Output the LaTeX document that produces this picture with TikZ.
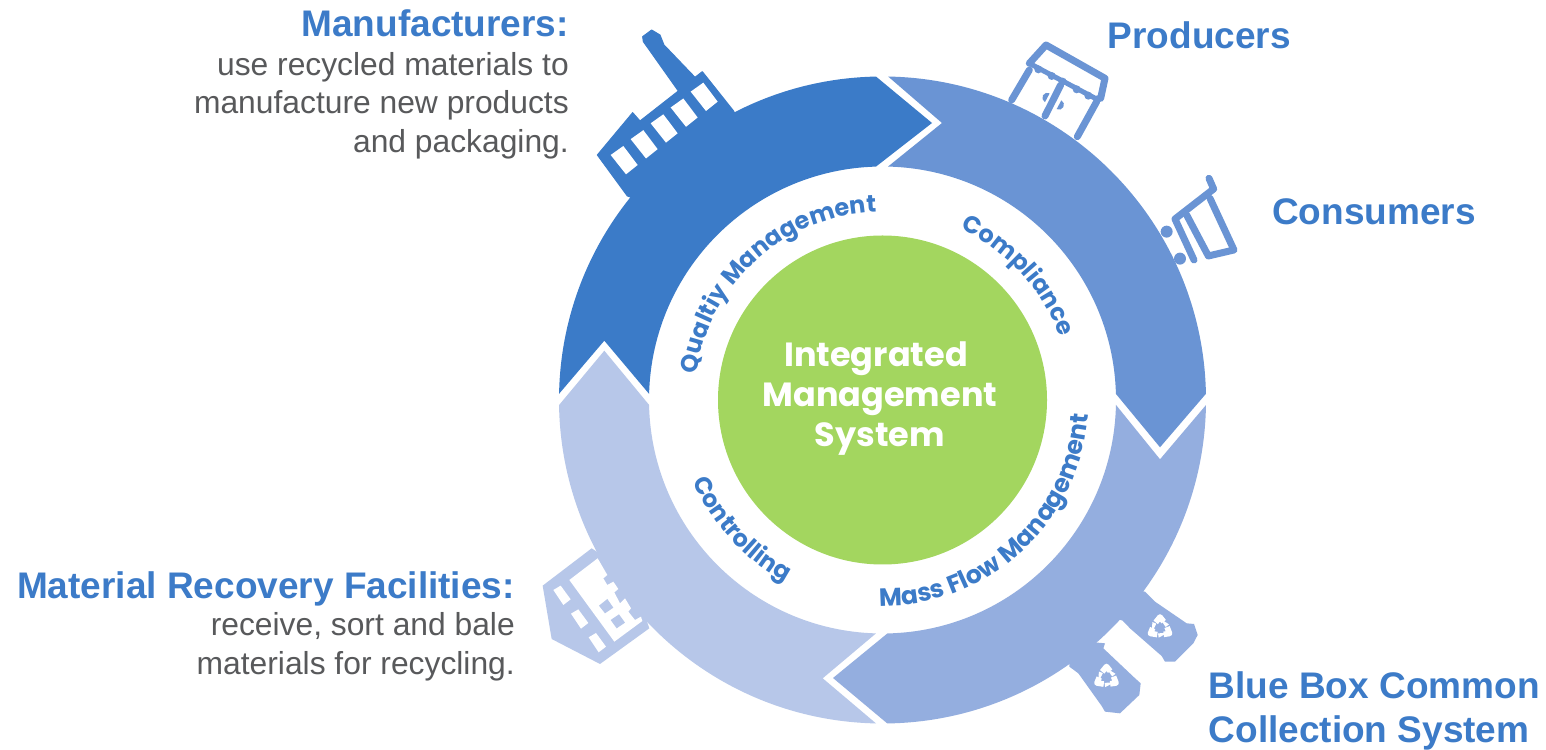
\documentclass[tikz,border=0pt]{standalone}
\usepackage{fontspec}
\setmainfont{Liberation Sans}
\newfontfamily\popbold{Poppins}[BoldFont={Poppins Bold}]
\usetikzlibrary{decorations.text}
\definecolor{segA}{HTML}{3B7BC8}
\definecolor{segB}{HTML}{6A94D4}
\definecolor{segC}{HTML}{94AEDF}
\definecolor{segD}{HTML}{B7C7E9}
\definecolor{hub}{HTML}{A3D65F}
\definecolor{headblue}{HTML}{3C7BC8}
\definecolor{bodygrey}{HTML}{58595B}
\tikzset{
  headtxt/.style={font=\fontsize{37}{37}\selectfont\bfseries,text=headblue,inner sep=0pt},
  bodytxt/.style={font=\fontsize{31.8}{31.8}\selectfont,text=bodygrey,inner sep=0pt},
  hubtxt/.style={font=\fontsize{33.5}{33.5}\popbold\bfseries,text=white,inner sep=0pt,anchor=base},
  iconline/.style={draw=segB,line width=7pt,line join=round,line cap=round,fill=none},
  arctext/.style={decorate,decoration={text along path,text align=center,text={#1}}}
}
\newcommand{\arcfont}{\fontsize{24}{24}\popbold\bfseries\color{headblue}}
\newcommand{\arcfontb}{\fontsize{25}{25}\popbold\bfseries\color{headblue}}
\newcommand{\recsym}[2]{%
  \begin{scope}[shift={(#1,#2)},x=.3333pt,y=.3333pt]
    \foreach \a in {90,210,330}{
      \begin{scope}[rotate=\a]
        \draw[white,line width=5.6pt,line join=round] (17,13) -- (33,0) -- (19,-11);
        \fill[white] (28,0) -- (11,-27) -- (3,-17) -- cycle;
      \end{scope}
    }
  \end{scope}}
\begin{document}
\begin{tikzpicture}[x=1pt,y=1pt]
\path[use as bounding box,fill=white] (0,0) rectangle (1546,749);
% ring
\begin{scope}[shift={(882.5,349)}]
  \fill[segB] (89:323.5) arc[start angle=89,end angle=1.1,radius=323.5] -- (277.5,-47.3) -- (1.5:233.5) arc[start angle=1.5,end angle=88.65,radius=233.5] -- (59.5,277) -- cycle;
  \fill[segC] (-.9:323.5) arc[start angle=-.9,end angle=-89.15,radius=323.5] -- (-49.5,-278) -- (-88.8:233.5) arc[start angle=-88.8,end angle=-1.2,radius=233.5] -- (277.5,-59.3) -- cycle;
  \fill[segD] (268.85:323.5) arc[start angle=268.85,end angle=180.9,radius=323.5] -- (-278.2,49.3) -- (181.2:233.5) arc[start angle=181.2,end angle=268.4,radius=233.5] -- (-59.8,-278.3) -- cycle;
  \fill[segA] (178.9:323.5) arc[start angle=178.9,end angle=91.15,radius=323.5] -- (49.5,277) -- (91.6:233.5) arc[start angle=91.6,end angle=178.5,radius=233.5] -- (-278.2,59.3) -- cycle;
  \fill[hub] (0,0) circle[radius=164.5];
  \path[arctext={|\arcfont|Qualtiy Management}] (172.5:188) arc[start angle=172.5,end angle=91.5,radius=188];
  \path[arctext={|\arcfont|Compliance}] (66:188) arc[start angle=66,end angle=19,radius=188];
  \path[arctext={|\arcfontb|Mass Flow Management}] (267.5:206) arc[start angle=267.5,end angle=357.5,radius=206];
  \path[arctext={|\arcfont|Controlling}] (201:206) arc[start angle=201,end angle=244,radius=206];
\end{scope}
\begin{scope}[yshift=749pt,y=-1pt]
  % factory
  \begin{scope}[shift={(590,20)},x=.3333pt,y=-.3333pt]
    \filldraw[segA,line width=1pt,line join=round] (112,528) -- (22,405) -- (128,278) -- (150,303) -- (265,213) -- (180,93) -- (160,65) -- (158,50) -- (185,30) -- (210,45) -- (222,75) -- (315,172) -- (337,155) -- (430,272) -- (500,400) -- (200,560) -- cycle;
    \foreach \i in {0,...,4}{
      \fill[white,shift={(\i*60,\i*-47.5)}] (62,405) -- (100,378) -- (143,435) -- (108,463) -- cycle;
    }
  \end{scope}
  % shop and cart
  \begin{scope}[shift={(990,30)},x=.3333pt,y=-.3333pt]
    \draw[iconline] (118,100) -- (168,45) -- (345,145) -- (332,205);
    \draw[iconline,line width=5pt] (118,100) -- (325,210);
    \foreach \px/\py in {145/118,185/138,218/155,260/178,295/197,322/208}{
      \fill[segB] (\px,\py) circle[radius=12];
    }
    \draw[iconline] (118,120) -- (65,210);
    \draw[iconline] (320,215) -- (262,320);
    \draw[iconline] (212,165) -- (165,258);
    \fill[segB] (179,190) arc[start angle=-62,end angle=-242,radius=15] -- cycle;
    \fill[segB] (214,211) arc[start angle=-62,end angle=118,radius=15] -- cycle;
    \draw[iconline] (657,445) -- (671,477) -- (555,567) -- (612,690);
    \draw[iconline] (590,555) -- (655,678) -- (732,660) -- (660,505);
    \fill[segB] (530,605) circle[radius=18];
    \fill[segB] (570,686) circle[radius=18];
  \end{scope}
  % bins
  \begin{scope}[shift={(1050,580)},x=.3333pt,y=-.3333pt]
    \fill[segC] (285,35) -- (315,65) -- (410,130) -- (432,132) -- (443,165) -- (430,190) -- (375,245) -- (345,245) -- (335,228) -- (240,145) -- (218,122) -- (150,100) -- (200,20) -- cycle;
    \fill[segC] (165,190) -- (160,205) -- (250,290) -- (272,310) -- (268,345) -- (210,400) -- (165,395) -- (155,378) -- (85,280) -- (58,260) -- (60,180) -- cycle;
  \end{scope}
  \recsym{1160}{628}
  \recsym{1106.5}{677.5}
  % MRF building
  \begin{scope}[shift={(530,540)},x=.3333pt,y=-.3333pt]
    \fill[segD] (185,25) -- (38,137) -- (65,297) -- (210,372) -- (358,265) -- (300,100) -- cycle;
    \fill[white] (118,120) -- (203,55) -- (232,105) -- (220,115) -- (232,135) -- (250,125) -- (265,147) -- (253,157) -- (270,190) -- (285,175) -- (303,205) -- (295,215) -- (315,240) -- (333,230) -- (337,243) -- (253,305) -- cycle;
    \fill[segD] (207,197) -- (232,177) -- (250,203) -- (225,220) -- cycle;
    \fill[segD] (242,240) -- (267,223) -- (285,248) -- (260,265) -- cycle;
    \foreach \i in {0,1,2}{
      \fill[white,shift={(\i*53,\i*71)}] (70,150) -- (92,137) -- (122,178) -- (100,195) -- cycle;
    }
  \end{scope}
  % labels
  \node[headtxt,anchor=base east] (mfhead) at (569,37) {Manufacturers:};
  \node[bodytxt,anchor=base east] (mf1) at (569,76) {use recycled materials to};
  \node[bodytxt,anchor=base east] (mf2) at (569,114) {manufacture new products};
  \node[bodytxt,anchor=base east] (mf3) at (569,153) {and packaging.};
  \node[headtxt,anchor=base west] (prod) at (1107.5,48.5) {Producers};
  \node[headtxt,anchor=base west] (cons) at (1272,224.5) {Consumers};
  \node[headtxt,anchor=base west] (bb1) at (1208.5,698.5) {Blue Box Common};
  \node[headtxt,anchor=base west] (bb2) at (1208.5,742.5) {Collection System};
  \node[headtxt,anchor=base east] (mrhead) at (515,599) {Material Recovery Facilities:};
  \node[bodytxt,anchor=base east] (mr1) at (515,636) {receive, sort and bale};
  \node[bodytxt,anchor=base east] (mr2) at (515,675) {materials for recycling.};
  \node[hubtxt] (h1) at (876,367) {Integrated};
  \node[hubtxt] (h2) at (880,407) {Management};
  \node[hubtxt] (h3) at (880,447) {System};
\end{scope}
\end{tikzpicture}
\end{document}
